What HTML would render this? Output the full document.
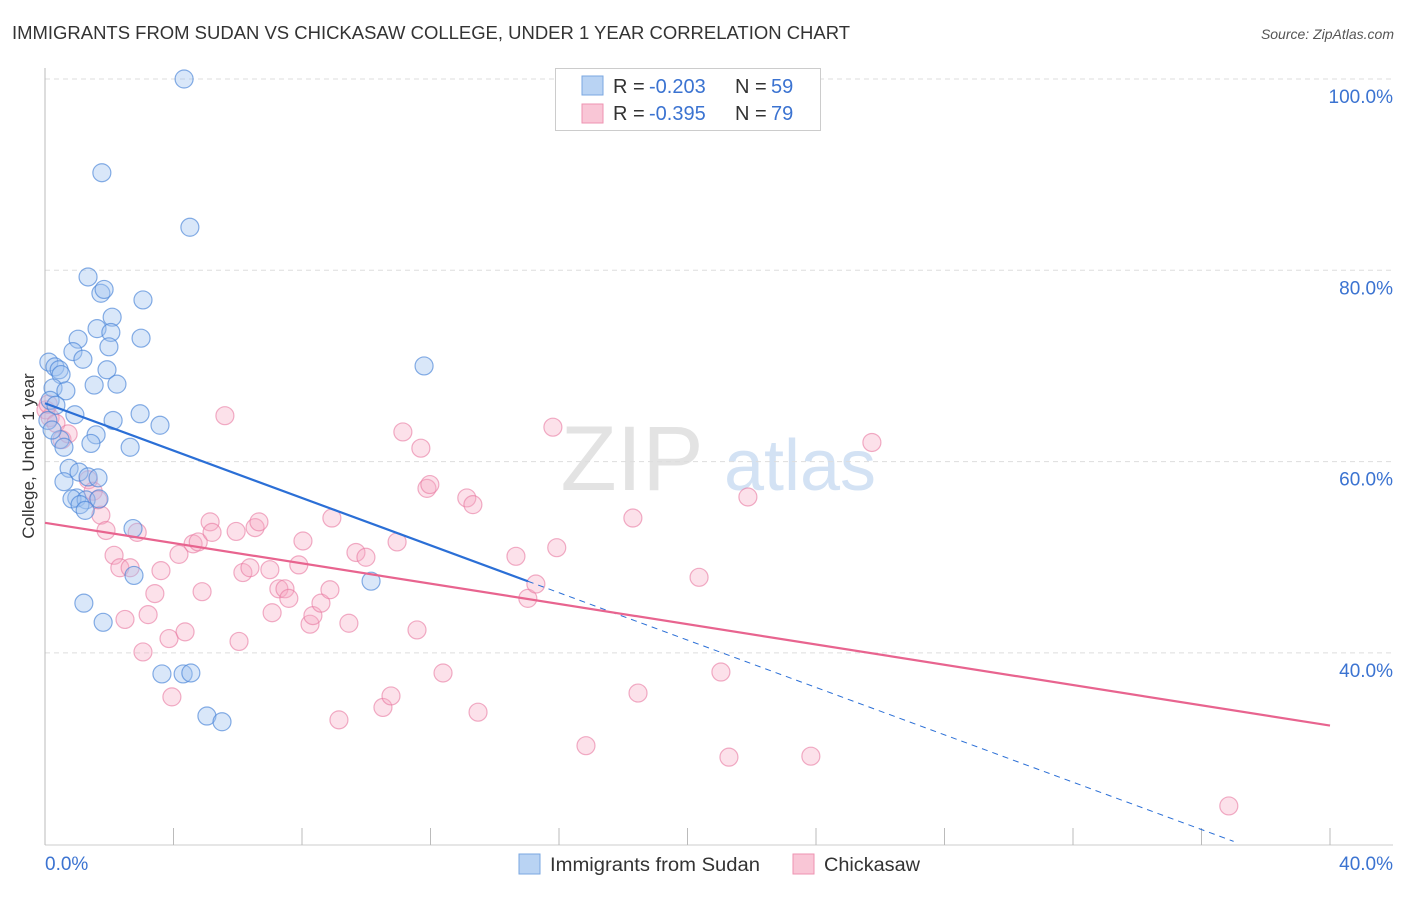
<!DOCTYPE html>
<html><head><meta charset="utf-8"><style>
body{margin:0;background:#fff;font-family:"Liberation Sans",sans-serif;}
svg text{font-family:"Liberation Sans",sans-serif;}
</style></head><body>
<svg id="chart" width="1406" height="892" viewBox="0 0 1406 892">
<text x="12" y="39" font-size="18" fill="#333" textLength="838" lengthAdjust="spacingAndGlyphs">IMMIGRANTS FROM SUDAN VS CHICKASAW COLLEGE, UNDER 1 YEAR CORRELATION CHART</text>
<text x="1394" y="39" font-size="14" fill="#555" font-style="italic" text-anchor="end">Source: ZipAtlas.com</text>
<g>
<text x="632" y="490" font-size="92" fill="#ddd" text-anchor="middle" font-family="Liberation Serif" opacity="0.8">ZIP</text>
<text x="800" y="490" font-size="72" fill="#c9dcf2" text-anchor="middle" opacity="0.8">atlas</text>
</g>
<g id="grid"></g>
<g id="axes"></g>
<g id="marks"></g>
<g id="trends"></g>
<text transform="translate(34,456) rotate(-90)" font-size="17" fill="#333" text-anchor="middle">College, Under 1 year</text>
<g>
<rect x="555.5" y="68.5" width="265" height="62" fill="#fff" stroke="#ccc"/>
<rect x="582" y="76" width="21" height="19" fill="#b9d3f3" stroke="#7aa7e0"/>
<rect x="582" y="104" width="21" height="19" fill="#f9c6d6" stroke="#ee93b1"/>
<text x="613" y="93" font-size="20" fill="#333">R =</text>
<text x="649" y="93" font-size="20" fill="#3b73d1">-0.203</text>
<text x="735" y="93" font-size="20" fill="#333">N =</text>
<text x="771" y="93" font-size="20" fill="#3b73d1">59</text>
<text x="613" y="120" font-size="20" fill="#333">R =</text>
<text x="649" y="120" font-size="20" fill="#3b73d1">-0.395</text>
<text x="735" y="120" font-size="20" fill="#333">N =</text>
<text x="771" y="120" font-size="20" fill="#3b73d1">79</text>
</g>
<g>
<rect x="519" y="854" width="21" height="20" fill="#b9d3f3" stroke="#7aa7e0"/>
<text x="550" y="871" font-size="19" fill="#333" textLength="210" lengthAdjust="spacingAndGlyphs">Immigrants from Sudan</text>
<rect x="793" y="854" width="21" height="20" fill="#f9c6d6" stroke="#ee93b1"/>
<text x="824" y="871" font-size="19" fill="#333" textLength="96" lengthAdjust="spacingAndGlyphs">Chickasaw</text>
</g>
</svg>
<script>
const xTicks=[0,4,8,12,16,20,24,28,32,36,40];
const yTicks=[40,60,80,100];
const yTickLabels=["40.0%","60.0%","80.0%","100.0%"];
const xEndLabels=["0.0%","40.0%"];
const sudanX=[4.33,1.77,4.51,1.34,1.74,1.84,3.05,2.09,1.62,2.05,1.03,2.99,1.99,0.87,1.18,0.12,0.31,0.44,0.50,11.8,1.93,2.24,1.53,0.25,0.65,0.16,0.34,0.93,2.12,2.96,3.58,1.59,0.47,1.43,2.65,0.59,0.75,1.06,1.34,1.65,0.59,0.99,0.84,1.28,1.09,1.25,2.74,2.77,10.15,1.21,1.81,3.64,4.30,4.54,5.04,5.51,0.09,0.22,1.68];
const sudanY=[100,90.2,84.5,79.3,77.6,78.0,76.9,75.1,73.9,73.5,72.8,72.9,72.0,71.5,70.7,70.4,69.9,69.6,69.1,70.0,69.6,68.1,68.0,67.7,67.4,66.4,65.9,64.9,64.3,65.0,63.8,62.8,62.3,61.9,61.5,61.5,59.3,58.9,58.4,58.3,57.9,56.2,56.1,56.0,55.5,54.9,53.0,48.1,47.5,45.2,43.2,37.8,37.8,37.9,33.4,32.8,64.3,63.3,56.1];
const chickX=[0.03,0.16,0.34,0.53,0.72,1.35,1.50,1.65,1.74,1.90,2.15,2.33,2.65,2.87,3.61,2.49,3.21,3.42,3.05,3.86,4.36,3.95,4.17,4.61,4.77,4.89,5.14,5.20,5.60,5.95,6.04,6.16,6.38,6.54,6.66,7.00,7.07,7.28,7.47,7.59,7.90,8.03,8.25,8.34,8.59,8.87,8.93,9.15,9.46,9.68,9.99,10.52,10.77,10.96,11.14,11.58,11.70,11.89,11.98,12.39,13.13,13.32,13.48,14.66,15.03,15.28,15.81,15.93,16.84,18.30,18.46,20.36,21.04,21.29,21.88,23.84,25.74,36.85,0.1];
const chickY=[65.4,64.6,64.0,62.3,62.9,58.1,56.9,56.0,54.4,52.8,50.2,48.9,48.9,52.6,48.6,43.5,44.0,46.2,40.1,41.5,42.2,35.4,50.3,51.4,51.6,46.4,53.7,52.6,64.8,52.7,41.2,48.4,48.9,53.1,53.7,48.7,44.2,46.7,46.7,45.7,49.2,51.7,43.0,43.9,45.2,46.6,54.1,33.0,43.1,50.5,50.0,34.3,35.5,51.6,63.1,42.4,61.4,57.2,57.6,37.9,56.2,55.5,33.8,50.1,45.7,47.2,63.6,51.0,30.3,54.1,35.8,47.9,38.0,29.1,56.3,29.2,62.0,24.0,66.0];
const sudanTrend=[66.1,-1.238,15.03,37.0];
const chickTrend=[53.6,32.4];
const NS="http://www.w3.org/2000/svg";
const X=v=>45+v*32.125, Y=v=>79+(100-v)*9.565;
function mk(tag,attrs,parent){const e=document.createElementNS(NS,tag);for(const k in attrs)e.setAttribute(k,attrs[k]);parent.appendChild(e);return e;}
const grid=document.getElementById('grid'),axes=document.getElementById('axes'),marks=document.getElementById('marks'),trends=document.getElementById('trends');
yTicks.forEach((t,i)=>{
 const l=mk('line',{x1:45,x2:1393,y1:Y(t),y2:Y(t),stroke:'#ddd','stroke-dasharray':'5,4'},grid);
 
 
 const tx=mk('text',{x:1393,y:Y(t)+24,'font-size':19,fill:'#3b73d1','text-anchor':'end'},axes);
 tx.textContent=yTickLabels[i];
 
 
});
mk('line',{x1:45,x2:45,y1:68,y2:845,stroke:'#bbb'},axes);
mk('line',{x1:45,x2:1393,y1:845,y2:845,stroke:'#ccc'},axes);
xTicks.forEach(t=>{
 const l=mk('line',{x1:X(t),x2:X(t),y1:828,y2:845,stroke:'#bbb'},axes);
 
 
});
const l0=mk('text',{x:45,y:870,'font-size':19,fill:'#3b73d1'},axes);l0.textContent=xEndLabels[0];


const l1=mk('text',{x:1393,y:870,'font-size':19,fill:'#3b73d1','text-anchor':'end'},axes);l1.textContent=xEndLabels[1];


chickX.forEach((v,i)=>{
 const c=mk('circle',{cx:X(v),cy:Y(chickY[i]),r:9,fill:'rgba(246,170,195,0.35)',stroke:'rgba(232,120,160,0.6)','stroke-width':1.2},marks);
 
 
});
sudanX.forEach((v,i)=>{
 const c=mk('circle',{cx:X(v),cy:Y(sudanY[i]),r:9,fill:'rgba(160,195,240,0.4)',stroke:'rgba(70,130,215,0.65)','stroke-width':1.2},marks);
 
 
});
const [b0,bs,bEnd,bDash]=sudanTrend;
const t1=mk('line',{x1:X(0),y1:Y(b0),x2:X(bEnd),y2:Y(b0+bs*bEnd),stroke:'#2b6fd6','stroke-width':2.2},trends);


const t2=mk('line',{x1:X(bEnd),y1:Y(b0+bs*bEnd),x2:X(bDash),y2:Y(b0+bs*bDash),stroke:'#2b6fd6','stroke-width':1,'stroke-dasharray':'6,5'},trends);


const t3=mk('line',{x1:X(0),y1:Y(chickTrend[0]),x2:X(40),y2:Y(chickTrend[1]),stroke:'#e8648f','stroke-width':2.2},trends);


</script>
</body></html>
